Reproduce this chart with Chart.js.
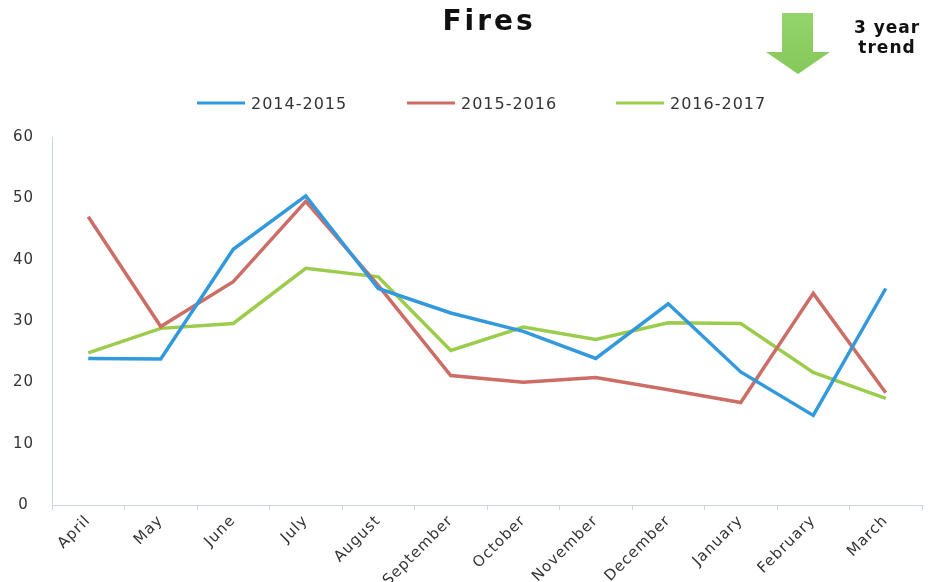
<!DOCTYPE html>
<html>
<head>
<meta charset="utf-8">
<script src="https://cdn.jsdelivr.net/npm/chart.js@4"></script>
<style>
  html, body { margin: 0; padding: 0; background: #fff; }
  #wrap { width: 931px; height: 582px; }
</style>
</head>
<body>
<div id="wrap"><canvas id="fires"></canvas></div>
<script>
    const months = ['April', 'May', 'June', 'July', 'August', 'September', 'October', 'November', 'December', 'January', 'February', 'March'];
    const seriesNames = ['2014-2015', '2015-2016', '2016-2017'];
    const fires1415 = [23.9, 23.8, 41.7, 50.4, 35.3, 31.3, 28.3, 23.9, 32.8, 21.7, 14.6, 35.3];
    const fires1516 = [47.0, 29.1, 36.4, 49.5, 35.8, 21.1, 20.0, 20.8, 18.8, 16.7, 34.5, 18.3];
    const fires1617 = [24.8, 28.8, 29.6, 38.6, 37.2, 25.2, 29.0, 27.0, 29.7, 29.6, 21.6, 17.4];
    const yTicks = [0, 10, 20, 30, 40, 50, 60];

    const colors = ['#3399dd', '#cc6e66', '#9ccc4c'];
    const axisColor = '#cbd5df';
    const FONT = '"DejaVu Sans", sans-serif';

    // canvas state is reset on resize, so spacing is set again before each pass
    const spacingPlugin = {
        id: 'spacing',
        beforeUpdate(chart) { chart.ctx.letterSpacing = '1px'; },
        beforeLayout(chart) { chart.ctx.letterSpacing = '1px'; },
        beforeDraw(chart) { chart.ctx.letterSpacing = '1px'; }
    };

    // title, arrow, "3 year trend" and legend
    const decorPlugin = {
        id: 'decor',
        afterDraw(chart) {
            const ctx = chart.ctx;
            ctx.save();

            ctx.fillStyle = '#111';
            ctx.textAlign = 'center';
            ctx.textBaseline = 'middle';
            ctx.letterSpacing = '3px';
            ctx.font = 'bold 28px ' + FONT;
            ctx.fillText('Fires', 489, 23);

            ctx.letterSpacing = '1px';
            ctx.font = 'bold 17px ' + FONT;
            ctx.fillText('3 year', 887, 29);
            ctx.fillText('trend', 887, 49);

            // green down arrow
            const grad = ctx.createLinearGradient(0, 13, 0, 74);
            grad.addColorStop(0, '#93d46c');
            grad.addColorStop(1, '#86c85a');
            ctx.fillStyle = grad;
            ctx.beginPath();
            ctx.moveTo(782, 13);
            ctx.lineTo(813, 13);
            ctx.lineTo(813, 52);
            ctx.lineTo(830, 52);
            ctx.lineTo(798, 74);
            ctx.lineTo(766, 52);
            ctx.lineTo(782, 52);
            ctx.closePath();
            ctx.fill();

            // legend
            const legendX = [197, 407, 616];
            ctx.textAlign = 'left';
            ctx.font = '16px ' + FONT;
            seriesNames.forEach((name, i) => {
                ctx.strokeStyle = colors[i];
                ctx.lineWidth = 3;
                ctx.beginPath();
                ctx.moveTo(legendX[i], 103);
                ctx.lineTo(legendX[i] + 48, 103);
                ctx.stroke();
                ctx.fillStyle = '#333';
                ctx.fillText(name, legendX[i] + 54, 105);
            });
            ctx.restore();
        }
    };

    new Chart(document.getElementById('fires'), {
        type: 'line',
        data: {
            labels: months,
            datasets: [fires1415, fires1516, fires1617].map((data, i) => ({
                label: seriesNames[i],
                data: data,
                borderColor: colors[i],
                backgroundColor: colors[i],
                borderWidth: 3.5,
                pointRadius: 0,
                tension: 0,
                fill: false
            }))
        },
        options: {
            responsive: true,
            maintainAspectRatio: false,
            animation: false,
            layout: { padding: { top: 137, right: 9, left: 0, bottom: 0 } },
            plugins: { legend: { display: false }, title: { display: false }, tooltip: { enabled: false } },
            scales: {
                x: {
                    offset: true,
                    afterFit(scale) { scale.height = 77; },
                    grid: { offset: true, drawOnChartArea: false, drawTicks: true, tickLength: 5, color: axisColor },
                    border: { display: true, color: axisColor },
                    ticks: {
                        autoSkip: false, maxRotation: 45, minRotation: 45, padding: 2,
                        color: '#333', font: { family: FONT, size: 15 }
                    }
                },
                y: {
                    min: yTicks[0],
                    max: yTicks[yTicks.length - 1],
                    afterFit(scale) { scale.width = 52; },
                    afterBuildTicks(scale) { scale.ticks = yTicks.map(v => ({ value: v })); },
                    grid: { drawOnChartArea: false, drawTicks: false, color: axisColor },
                    border: { display: true, color: axisColor },
                    ticks: {
                        crossAlign: 'center', padding: 18,
                        color: '#333', font: { family: FONT, size: 15 }
                    }
                }
            }
        },
        plugins: [spacingPlugin, decorPlugin]
    });
</script>
</body>
</html>
